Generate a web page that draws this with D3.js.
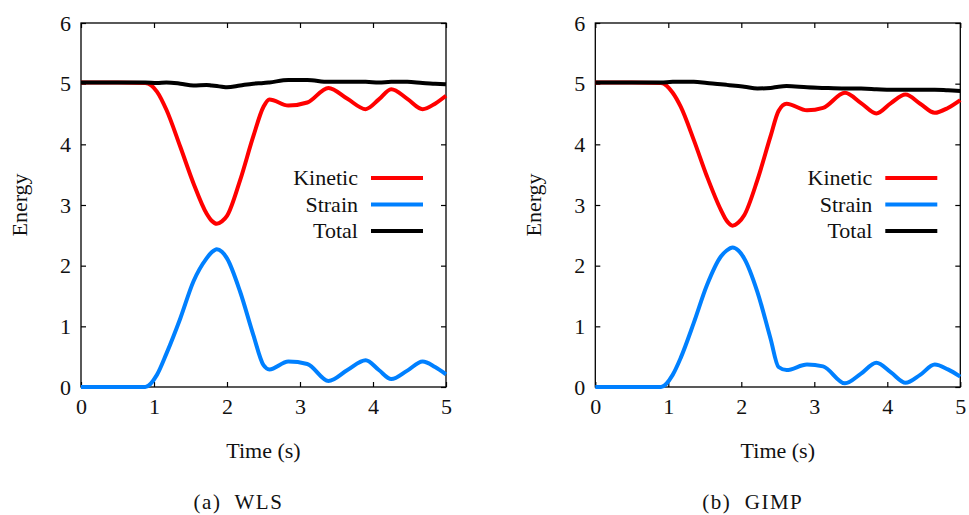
<!DOCTYPE html>
<html>
<head>
<meta charset="utf-8">
<script src="https://cdn.jsdelivr.net/npm/d3@7"></script>
<style>
  body { margin: 0; background: #fff; }
  text { font-family: "Liberation Serif", "DejaVu Serif", serif; fill: #111; }
</style>
</head>
<body>
<div id="chart"></div>
<script>
// time axis ticks + energy axis ticks
var timeTicks = [0, 1, 2, 3, 4, 5];
var energyTicks = [0, 1, 2, 3, 4, 5, 6];
var seriesNames = ["Kinetic", "Strain", "Total"];
var seriesColors = ["#ff0000", "#0080ff", "#000000"];

// (a) WLS
var timeWLS = [0, 0.5, 0.88, 1.04, 1.17, 1.36, 1.54, 1.72, 1.79, 1.86, 1.93, 2.0, 2.18, 2.36, 2.5, 2.58, 2.84, 3.1, 3.39, 3.65, 3.9, 4.08, 4.25, 4.47, 4.68, 4.85, 5.0];
var kineticWLS = [5.02, 5.02, 5.01, 4.87, 4.57, 3.96, 3.36, 2.86, 2.74, 2.69, 2.73, 2.82, 3.41, 4.13, 4.62, 4.74, 4.64, 4.69, 4.93, 4.75, 4.58, 4.74, 4.91, 4.75, 4.58, 4.67, 4.80];
var strainWLS = [0, 0, 0, 0.20, 0.55, 1.13, 1.74, 2.12, 2.22, 2.27, 2.23, 2.12, 1.57, 0.86, 0.36, 0.29, 0.42, 0.38, 0.10, 0.28, 0.44, 0.28, 0.13, 0.27, 0.42, 0.33, 0.21];
var totalWLS = [5.02, 5.02, 5.02, 5.01, 5.02, 5.0, 4.97, 4.98, 4.97, 4.96, 4.95, 4.94, 4.97, 5.0, 5.01, 5.02, 5.06, 5.06, 5.03, 5.03, 5.03, 5.02, 5.03, 5.03, 5.01, 5.0, 4.99];

// (b) GIMP
var timeGIMP = [0, 0.5, 0.9, 1.06, 1.17, 1.35, 1.53, 1.72, 1.8, 1.88, 1.96, 2.04, 2.22, 2.4, 2.51, 2.62, 2.9, 3.12, 3.42, 3.64, 3.85, 4.05, 4.25, 4.45, 4.65, 4.83, 5.0];
var kineticGIMP = [5.02, 5.02, 5.01, 4.85, 4.62, 4.07, 3.47, 2.92, 2.74, 2.66, 2.71, 2.83, 3.41, 4.13, 4.55, 4.67, 4.56, 4.60, 4.85, 4.68, 4.51, 4.68, 4.82, 4.67, 4.52, 4.60, 4.73];
var strainGIMP = [0, 0, 0, 0.20, 0.48, 1.06, 1.68, 2.15, 2.25, 2.30, 2.25, 2.12, 1.57, 0.80, 0.33, 0.28, 0.37, 0.34, 0.06, 0.22, 0.40, 0.24, 0.07, 0.20, 0.37, 0.29, 0.17];
var totalGIMP = [5.02, 5.02, 5.02, 5.03, 5.03, 5.03, 5.01, 4.99, 4.98, 4.97, 4.96, 4.95, 4.92, 4.93, 4.95, 4.96, 4.94, 4.93, 4.92, 4.92, 4.91, 4.90, 4.90, 4.90, 4.90, 4.89, 4.88];

var width = 969;
var height = 515;
var plotW = 365;
var plotH = 364;
var plotTop = 23; // "top" is taken by window.top

var svg = d3
  .select("#chart")
  .append("svg")
  .attr("width", width)
  .attr("height", height);

function drawPanel(left, times, kin, str, tot, tag, caption) {
  var x = d3.scaleLinear().domain([0, 5]).range([0, plotW]);
  var y = d3.scaleLinear().domain([0, 6]).range([plotH, 0]);

  var g = svg
    .append("g")
    .attr("transform", "translate(" + left + "," + plotTop + ")");

  // axes, ticks point inwards (gnuplot style)
  g.append("g")
    .attr("transform", "translate(0," + plotH + ")")
    .call(d3.axisBottom(x).tickValues(timeTicks).tickFormat(d3.format("d")).tickSize(-5).tickSizeOuter(0).tickPadding(11))
    .call(styleAxis);
  g.append("g")
    .call(d3.axisLeft(y).tickValues(energyTicks).tickFormat(d3.format("d")).tickSize(-5).tickSizeOuter(0).tickPadding(10))
    .call(styleAxis);
  // mirrored ticks
  g.append("g")
    .call(d3.axisTop(x).tickValues(timeTicks).tickFormat("").tickSize(-5).tickSizeOuter(0))
    .call(styleAxis);
  g.append("g")
    .attr("transform", "translate(" + plotW + ",0)")
    .call(d3.axisRight(y).tickValues(energyTicks).tickFormat("").tickSize(-5).tickSizeOuter(0))
    .call(styleAxis);

  g.append("rect")
    .attr("width", plotW)
    .attr("height", plotH)
    .attr("fill", "none")
    .attr("stroke", "#000")
    .attr("stroke-width", 1.3);

  var line = d3
    .line()
    .x(d => x(d[0]))
    .y(d => y(d[1]))
    .curve(d3.curveMonotoneX);

  var all = [kin, str, tot];
  all.forEach(function(vals, i) {
    g.append("path")
      .datum(times.map((t, j) => [t, vals[j]]))
      .attr("d", line)
      .attr("fill", "none")
      .attr("stroke", seriesColors[i])
      .attr("stroke-width", 4)
      .attr("stroke-linejoin", "round");
  });

  // legend
  var leg = g
    .selectAll(".leg")
    .data(seriesNames)
    .enter()
    .append("g")
    .attr("transform", (d, i) => "translate(0," + (155 + i * 26.5) + ")");
  leg.append("text")
    .attr("x", 277)
    .attr("y", 7)
    .attr("text-anchor", "end")
    .style("font-size", "22px")
    .text(d => d);
  leg.append("line")
    .attr("x1", 290)
    .attr("x2", 342)
    .attr("stroke", (d, i) => seriesColors[i])
    .attr("stroke-width", 4);

  // axis titles
  g.append("text")
    .attr("x", plotW / 2)
    .attr("y", 458 - plotTop)
    .attr("text-anchor", "middle")
    .style("font-size", "22px")
    .text("Time (s)");
  g.append("text")
    .attr("transform", "translate(-54," + plotH / 2 + ") rotate(-90)")
    .attr("text-anchor", "middle")
    .style("font-size", "22px")
    .text("Energy");

  // caption
  g.append("text")
    .attr("x", plotW / 2 - 25)
    .attr("y", 509 - plotTop)
    .attr("text-anchor", "middle")
    .style("font-size", "21px")
    .style("letter-spacing", "1.5px")
    .style("white-space", "pre")
    .text(tag + "  " + caption);
}

function styleAxis(sel) {
  sel.select(".domain").remove();
  sel.selectAll(".tick line").attr("stroke", "#000").attr("stroke-width", 1.2);
  sel.selectAll(".tick text")
    .style("font-size", "22px")
    .style("font-family", "'Liberation Serif', serif")
    .attr("fill", "#111");
}

drawPanel(81, timeWLS, kineticWLS, strainWLS, totalWLS, "(a)", "WLS");
drawPanel(595.3, timeGIMP, kineticGIMP, strainGIMP, totalGIMP, "(b)", "GIMP");
</script>
</body>
</html>
